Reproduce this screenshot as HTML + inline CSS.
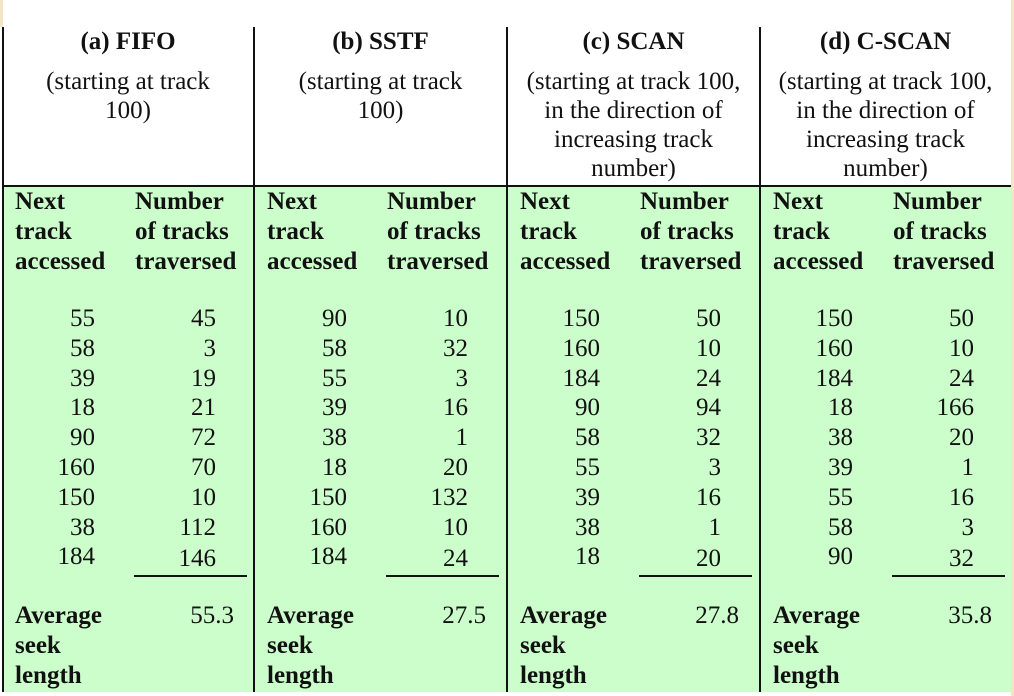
<!DOCTYPE html>
<html><head><meta charset="utf-8"><style>
body{margin:0;width:1014px;height:696px;position:relative;background:#fff;overflow:hidden;font-family:"Liberation Serif","DejaVu Serif",serif;color:#111}
.a{position:absolute;white-space:nowrap;font-family:"Liberation Serif","DejaVu Serif",serif;font-size:25px;line-height:30px}
.b{font-weight:bold}
</style></head><body>
<div style="position:absolute;left:1011px;top:0;width:3px;height:696px;background:#f3e6c8"></div>
<div style="position:absolute;left:0;top:0;width:3px;height:27px;background:#f3e6c8"></div>
<div id="t"></div>
<script>
const titles=["(a) FIFO","(b) SSTF","(c) SCAN","(d) C-SCAN"];
const subs=[["(starting at track","100)"],["(starting at track","100)"],["(starting at track 100,","in the direction of","increasing track","number)"],["(starting at track 100,","in the direction of","increasing track","number)"]];
const nextTracks=[[55,58,39,18,90,160,150,38,184],[90,58,55,39,38,18,150,160,184],[150,160,184,90,58,55,39,38,18],[150,160,184,18,38,39,55,58,90]];
const traversed=[[45,3,19,21,72,70,10,112,146],[10,32,3,16,1,20,132,10,24],[50,10,24,94,32,3,16,1,20],[50,10,24,166,20,1,16,3,32]];
const averages=["55.3","27.5","27.8","35.8"];
const t=document.getElementById('t');
function add(html,style,cls,name){const d=document.createElement('div');d.className='a '+(cls||'');d.innerHTML=html;d.style.cssText=style;


t.appendChild(d);return d;}
const px=[2,254,507,760], pw=[252,253,253,251];
for(let i=0;i<4;i++){
 const x=px[i],w=pw[i];
 add('',`left:${x}px;top:186px;width:${w}px;height:506px;background:#ccfecc`,'','panel-body');
 add(titles[i],`left:${x}px;top:27px;width:${w}px;text-align:center`,'b','panel-title');
 subs[i].forEach((s,j)=>add(s,`left:${x}px;top:${67+j*29}px;width:${w}px;text-align:center`,'','panel-subtitle'));
 add('Next<br>track<br>accessed',`left:${x+13}px;top:187px`,'b','next-track-header');
 add('Number<br>of tracks<br>traversed',`left:${x+133}px;top:187px`,'b','tracks-traversed-header');
 nextTracks[i].forEach((v,j)=>add(v,`left:${x}px;top:${304+j*29.8}px;width:93px;text-align:right`,'','next-track-cell'));
 traversed[i].forEach((v,j)=>add(v,`left:${x}px;top:${304+j*29.8+(j==8?2:0)}px;width:214px;text-align:right`,'','traversed-cell'));
 add('',`left:${x+132}px;top:575px;width:113px;height:2px;background:#111`,'','sum-rule');
 add('Average<br>seek<br>length',`left:${x+13}px;top:601px`,'b','average-label');
 add(averages[i],`left:${x}px;top:601px;width:232px;text-align:right`,'','average-value');
}
add('',`left:2px;top:185px;width:1009px;height:2px;background:#111`,'','header-rule');
[2,253,506,759].forEach(x=>add('',`left:${x}px;top:27px;width:2px;height:665px;background:#111`,'','column-divider'));
</script>
</body></html>
